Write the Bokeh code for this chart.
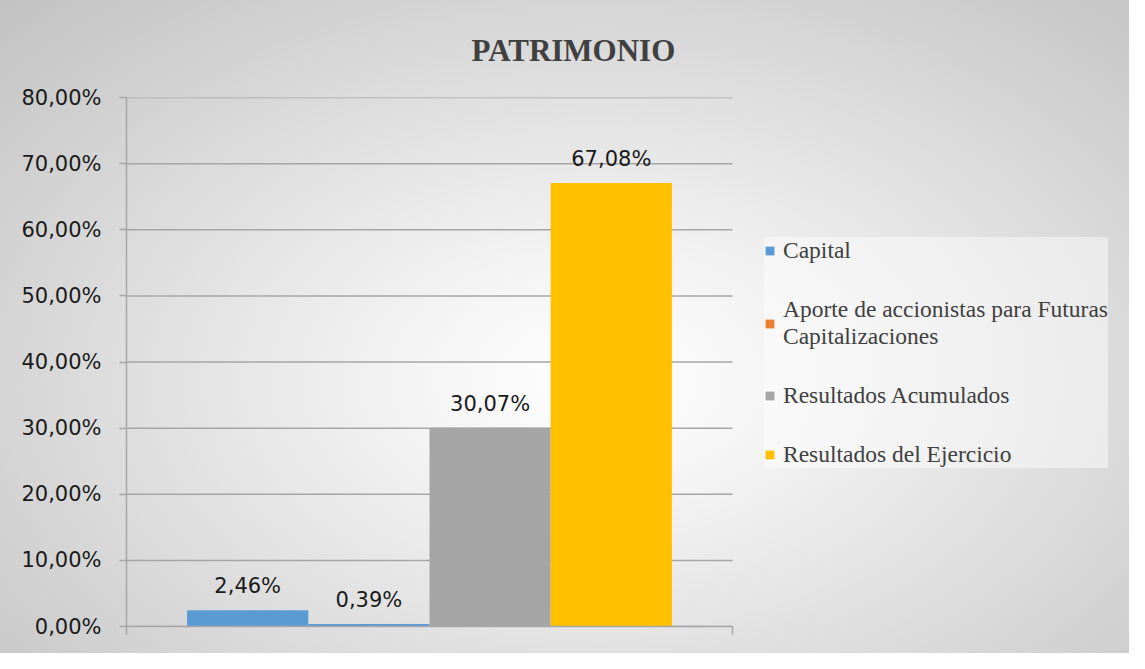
from bokeh.plotting import figure
from bokeh.models import (ColumnDataSource, FixedTicker, CustomJSTickFormatter,
                          Range1d, Legend, LegendItem, Title)
from bokeh.core.properties import value
from bokeh.embed import file_html
from bokeh.resources import INLINE

# ---- data ----
title = "PATRIMONIO"
series = ["Capital",
          "Aporte de accionistas para Futuras\nCapitalizaciones",
          "Resultados Acumulados",
          "Resultados del Ejercicio"]
values = [2.46, 0.39, 30.07, 67.08]
legend_colors = ["#5B9BD5", "#ED7D31", "#A5A5A5", "#FFC000"]
bar_colors = ["#5B9BD5", "#5B9BD5", "#A5A5A5", "#FFC000"]
y_ticks = [0, 10, 20, 30, 40, 50, 60, 70, 80]

W, H = 1129, 653
FL, FR = 126, 0          # borders left / right
CAT_END = 5.0            # the category band of the bar group ends here
PX_PER_UNIT = 606 / CAT_END
X_END = (W - FL - FR) / PX_PER_UNIT

p = figure(width=W, height=H, output_backend="svg", toolbar_location=None,
           x_range=Range1d(0, X_END), y_range=Range1d(0, 80),
           min_border_left=FL, min_border_right=FR,
           min_border_top=97, min_border_bottom=27)
p.background_fill_color = None
p.border_fill_color = None
p.outline_line_color = None
p.styles = {"background": "radial-gradient(ellipse farthest-corner at 53% 58%, #ffffff 0%, #f4f4f4 22%, #c2c2c2 100%)"}

# horizontal gridlines, limited to the plot area of the bar group
p.segment(x0=0, x1=CAT_END, y0=y_ticks, y1=y_ticks, line_color="#A6A6A6",
          line_width=1.5, level="underlay")

xs = [i + 1 for i in range(len(values))]
labels = [f"{v:.2f}".replace(".", ",") + "%" for v in values]
src = ColumnDataSource(dict(x=xs, top=values, color=bar_colors, label=labels))
p.vbar(x="x", top="top", width=1.0, bottom=0, color="color", line_color=None, source=src)
p.text(x="x", y="top", text="label", source=src, text_align="center",
       text_baseline="alphabetic", y_offset=-24, text_font_size="21px",
       text_font=value("DejaVu Sans"), text_color="#1a1a1a")

# y axis
ya = p.yaxis[0]
ya.ticker = FixedTicker(ticks=y_ticks)
ya.formatter = CustomJSTickFormatter(code="return tick.toFixed(2).replace('.', ',') + '%';")
ya.major_label_text_font = "DejaVu Sans"
ya.major_label_text_font_size = "21px"
ya.major_label_text_color = "#1a1a1a"
ya.major_label_standoff = 18
ya.major_tick_out = 7
ya.major_tick_in = 0
ya.minor_tick_line_color = None
ya.axis_line_color = "#A6A6A6"
ya.major_tick_line_color = "#A6A6A6"
ya.axis_line_width = 1.5
ya.major_tick_line_width = 1.5

# x axis (category band only, ticks at its edges, no labels)
xa = p.xaxis[0]
xa.bounds = (0, CAT_END)
xa.ticker = FixedTicker(ticks=[0, CAT_END])
xa.major_label_text_font_size = "10px"
xa.major_label_overrides = {0: "", 5: ""}
xa.major_label_standoff = 0
xa.major_tick_out = 8
xa.major_tick_in = 0
xa.minor_tick_line_color = None
xa.axis_line_color = "#A6A6A6"
xa.major_tick_line_color = "#A6A6A6"
xa.axis_line_width = 1.5
xa.major_tick_line_width = 1.5

p.xgrid.grid_line_color = None
p.ygrid.grid_line_color = None

# title
p.add_layout(Title(text=title, align="left", offset=345, standoff=60,
                   text_font="Liberation Serif", text_font_style="bold",
                   text_font_size="31px", text_color="#404040"), "above")

# legend: zero-height swatches carrying each series' legend colour
lsrc = ColumnDataSource(dict(x=xs, top=[0] * len(xs), color=legend_colors))
lr = p.vbar(x="x", top="top", bottom=0, width=1.0, fill_color="color",
            line_color=None, source=lsrc)
items = [LegendItem(label=name, renderers=[lr], index=i) for i, name in enumerate(series)]
leg = Legend(items=items, location=(638, 158), orientation="vertical",
             background_fill_color="white", background_fill_alpha=0.45,
             border_line_color=None, padding=22, spacing=32, margin=0,
             glyph_width=11, glyph_height=11, label_height=27, label_standoff=8,
             label_text_font="Liberation Serif", label_text_font_size="23.5px",
             label_text_color="#404040")
p.add_layout(leg, "center")

open("out.html", "w").write(file_html(p, INLINE))
